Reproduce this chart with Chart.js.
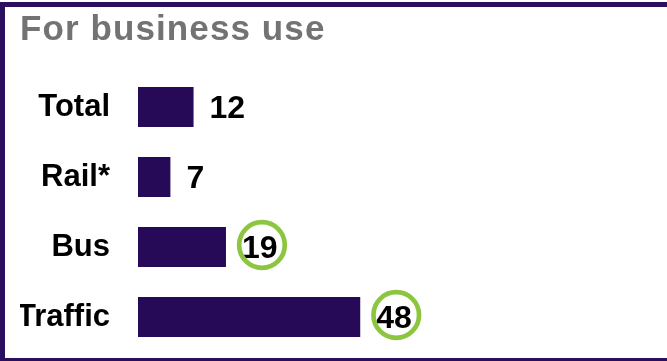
<!DOCTYPE html>
<html>
<head>
<meta charset="utf-8">
<title>For business use</title>
<script src="https://cdn.jsdelivr.net/npm/chart.js@4"></script>
<style>
  html, body { margin: 0; padding: 0; background: #fff; overflow: hidden; }
  #wrap { position: relative; width: 667px; height: 361px; }
  #frame {
    position: absolute; left: 0; top: 2px; width: 700px; height: 359px;
    box-sizing: border-box; pointer-events: none;
    border-top: 5px solid #2b0f5f;
    border-left: 5px solid #2b0f5f;
    border-bottom: 3px solid #2b0f5f;
  }
</style>
</head>
<body>
<div id="wrap">
  <canvas id="barChart" width="667" height="361"></canvas>
  <div id="frame"></div>
</div>
<script>
// categories and share values
const categories = ['Total', 'Rail*', 'Bus', 'Traffic'];
const businessValues = [12, 7, 19, 48];
// categories whose value gets a green ring
const circled = ['Bus', 'Traffic'];
const heading = 'For business use';

const FONT = '"Liberation Sans", Arial, sans-serif';

// Grey heading in the top-left corner, a little letter-spaced
const headingText = {
  id: 'headingText',
  beforeDraw(chart) {
    const ctx = chart.ctx;
    ctx.save();
    ctx.letterSpacing = '1.1px';
    ctx.font = 'bold 35px ' + FONT;
    ctx.fillStyle = '#747274';
    ctx.textAlign = 'left';
    ctx.textBaseline = 'alphabetic';
    ctx.fillText(heading, 20, 40);
    ctx.restore();
  }
};

// Writes the value next to each bar, with a ring around the highlighted ones
const valueLabels = {
  id: 'valueLabels',
  afterDatasetsDraw(chart) {
    const ctx = chart.ctx;
    const meta = chart.getDatasetMeta(0);
    ctx.save();
    ctx.font = 'bold 32px ' + FONT;
    ctx.fillStyle = '#000';
    ctx.textAlign = 'left';
    ctx.textBaseline = 'middle';
    meta.data.forEach((bar, i) => {
      ctx.fillText(String(businessValues[i]), bar.x + 16, bar.y + 2);
      if (circled.includes(categories[i])) {
        ctx.beginPath();
        ctx.arc(bar.x + 36, bar.y - 2, 22.8, 0, Math.PI * 2);
        ctx.lineWidth = 4.7;
        ctx.strokeStyle = '#8cc63f';
        ctx.stroke();
      }
    });
    ctx.restore();
  }
};

const ctx = document.getElementById('barChart').getContext('2d');
const barChart = new Chart(ctx, {
  type: 'bar',
  data: {
    labels: categories,
    datasets: [{
      data: businessValues,
      backgroundColor: '#260a57',
      borderWidth: 0,
      barPercentage: 0.573,
      categoryPercentage: 1
    }]
  },
  options: {
    indexAxis: 'y',
    responsive: false,
    animation: false,
    devicePixelRatio: 1,
    layout: { padding: { left: 20, right: 66, top: 72, bottom: 9 } },
    plugins: {
      legend: { display: false },
      tooltip: { enabled: false },
      title: { display: false }
    },
    scales: {
      x: { display: false, min: 0, max: 100 },
      y: {
        grid: { display: false, drawTicks: false },
        border: { display: false },
        ticks: {
          color: '#000',
          padding: 28,
          font: { family: FONT, size: 31, weight: 'bold' }
        },
        afterFit(scale) {
          // fixed axis width; tick padding should not eat vertical room
          scale.width = 118;
          scale.paddingTop = 0;
          scale.paddingBottom = 0;
        }
      }
    }
  },
  plugins: [headingText, valueLabels]
});
</script>
</body>
</html>
